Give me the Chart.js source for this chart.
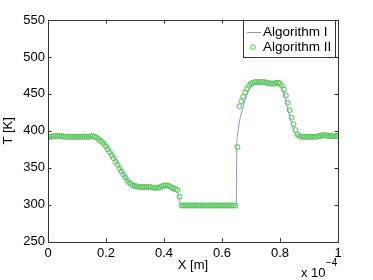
<!DOCTYPE html>
<html>
<head>
<meta charset="utf-8">
<script src="https://cdn.jsdelivr.net/npm/chart.js@4"></script>
<style>
  html, body { margin: 0; padding: 0; background: #fff; }
  #wrap { width: 373px; height: 280px; }
</style>
</head>
<body>
<div id="wrap"><canvas id="c" width="373" height="280"></canvas></div>
<script>
// tick labels
const xTicks = [0, 0.2, 0.4, 0.6, 0.8, 1];
const yTicks = [250, 300, 350, 400, 450, 500, 550];

// Algorithm I (solid line), x in units of 1e-4 m
const xI = [0, 0.02, 0.05, 0.1, 0.15, 0.165, 0.18, 0.2, 0.22, 0.24, 0.26, 0.28, 0.3, 0.32, 0.36, 0.38,
  0.4, 0.41, 0.42, 0.43, 0.44, 0.45, 0.455, 0.46, 0.55, 0.648, 0.6495, 0.6505, 0.653, 0.66, 0.67, 0.68,
  0.69, 0.7, 0.71, 0.72, 0.76, 0.79, 0.8, 0.81, 0.82, 0.83, 0.84, 0.85, 0.86, 0.9, 0.95, 1];
const tI = [391, 392, 393, 392, 392, 391, 388, 381, 370, 356, 342, 331, 325, 324, 323, 323,
  324, 325, 323, 321, 318, 313, 303, 299, 299, 299, 300, 370, 392, 412, 428, 442,
  453, 461, 464, 465, 465, 464, 462, 455, 441, 424, 410, 398, 393, 393, 394, 393];

// Algorithm II (circles), one value every 1/150 of the x range
const stepII = 1 / 150;
const tII = [
  391, 392, 392, 393, 393, 393, 393, 393, 392, 392,
  392, 392, 392, 392, 392, 392, 392, 392, 392, 392,
  392, 392, 392, 393, 392, 391, 389, 387, 385, 382,
  379, 375, 371, 367, 363, 358, 354, 349, 345, 341,
  337, 333, 330, 328, 326, 325, 325, 324, 324, 324,
  324, 324, 324, 324, 323, 323, 323, 323, 324, 325,
  326, 326, 326, 325, 323, 322, 321, 320, 311, 299,
  299, 299, 299, 299, 299, 299, 299, 299, 299, 299,
  299, 299, 299, 299, 299, 299, 299, 299, 299, 299,
  299, 299, 299, 299, 299, 299, 299, 299, 378, 433,
  440, 446, 452, 457, 461, 464, 465, 466, 466, 466,
  466, 466, 466, 465, 465, 464, 464, 464, 465, 465,
  464, 461, 456, 448, 438, 428, 418, 409, 401, 395,
  393, 392, 392, 392, 392, 392, 392, 392, 392, 392,
  393, 393, 394, 394, 394, 393, 393, 393, 393, 393, 393
];

const lineColor = "#8195ef";
const dotColor = "#52c452";
const font = "Liberation Sans, Arial, sans-serif";

const boxAndExtras = {
  id: "boxAndExtras",
  afterDraw(chart) {
    const { ctx, chartArea: a, scales } = chart;
    const tl = 3.5;
    ctx.save();
    ctx.strokeStyle = "#333";
    ctx.lineWidth = 1;
    ctx.strokeRect(Math.round(a.left) + 0.5, Math.round(a.top) + 0.5,
      Math.round(a.right - a.left), Math.round(a.bottom - a.top));

    ctx.beginPath();
    scales.x.ticks.forEach(t => {
      const px = Math.round(scales.x.getPixelForValue(t.value)) + 0.5;
      ctx.moveTo(px, a.bottom); ctx.lineTo(px, a.bottom - tl);
      ctx.moveTo(px, a.top); ctx.lineTo(px, a.top + tl);
    });
    scales.y.ticks.forEach(t => {
      const py = Math.round(scales.y.getPixelForValue(t.value)) + 0.5;
      ctx.moveTo(a.left, py); ctx.lineTo(a.left + tl, py);
      ctx.moveTo(a.right, py); ctx.lineTo(a.right - tl, py);
    });
    ctx.stroke();

    // legend
    const lx = 243.5, ly = 20.5, lw = 92, lh = 37;
    ctx.fillStyle = "#fff";
    ctx.fillRect(lx, ly, lw, lh);
    ctx.strokeRect(lx, ly, lw, lh);
    ctx.strokeStyle = lineColor;
    ctx.beginPath();
    ctx.moveTo(247, 32.5); ctx.lineTo(261, 32.5);
    ctx.stroke();
    ctx.strokeStyle = dotColor;
    ctx.beginPath();
    ctx.arc(253, 47, 2.3, 0, Math.PI * 2);
    ctx.stroke();
    ctx.fillStyle = "#000";
    ctx.font = "13.5px " + font;
    ctx.textBaseline = "middle";
    ctx.textAlign = "left";
    ctx.fillText(chart.data.datasets[0].label, 263, 32.5);
    ctx.fillText(chart.data.datasets[1].label, 263, 47);

    // x multiplier
    ctx.font = "13px " + font;
    ctx.fillText("x 10", 301, 273);
    ctx.font = "10px " + font;
    ctx.fillText("\u22124", 326, 263);
    ctx.restore();
  }
};

new Chart(document.getElementById("c"), {
  type: "scatter",
  data: {
    datasets: [
      {
        label: "Algorithm I",
        data: xI.map((x, i) => ({ x, y: tI[i] })),
        showLine: true,
        borderColor: lineColor,
        borderWidth: 1,
        pointRadius: 0,
        cubicInterpolationMode: "monotone",
        order: 1
      },
      {
        label: "Algorithm II",
        data: tII.map((y, i) => ({ x: i * stepII, y })),
        showLine: false,
        pointStyle: "circle",
        pointRadius: 2.5,
        borderWidth: 1,
        borderColor: dotColor,
        backgroundColor: "rgba(170,230,170,0.25)",
        order: 0
      }
    ]
  },
  options: {
    responsive: false,
    animation: false,
    layout: { padding: { left: 0, right: 35, top: 20, bottom: 0 } },
    plugins: { legend: { display: false }, tooltip: { enabled: false } },
    scales: {
      x: {
        type: "linear",
        min: 0, max: 1,
        afterBuildTicks: s => { s.ticks = xTicks.map(v => ({ value: v })); },
        afterFit: s => { s.height = 38.3; },
        grid: { display: true, drawOnChartArea: false, drawTicks: false },
        border: { display: false },
        ticks: { color: "#000", font: { family: font, size: 13 }, padding: 4, maxRotation: 0,
          callback: v => String(v) },
        title: { display: true, text: "X [m]", color: "#000", font: { family: font, size: 13 }, padding: { top: 0, bottom: 7 } }
      },
      y: {
        min: 250, max: 550,
        afterBuildTicks: s => { s.ticks = yTicks.map(v => ({ value: v })); },
        afterFit: s => { s.width = 48; },
        grid: { display: true, drawOnChartArea: false, drawTicks: false },
        border: { display: false },
        ticks: { color: "#000", font: { family: font, size: 13 }, padding: 3 },
        title: { display: true, text: "T [K]", color: "#000", font: { family: font, size: 13 }, padding: { top: 1, bottom: 0 } }
      }
    }
  },
  plugins: [boxAndExtras]
});
</script>
</body>
</html>
